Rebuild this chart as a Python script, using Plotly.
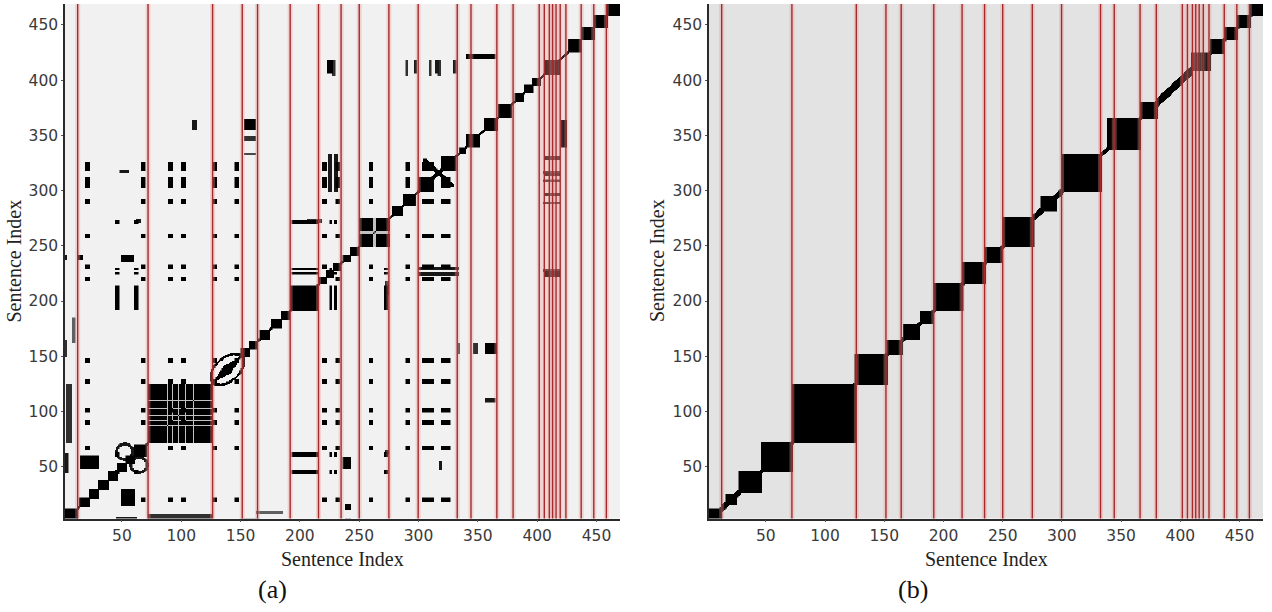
import numpy as np
import plotly.graph_objects as go

# ---- data -------------------------------------------------------------
N = 470  # number of sentences

# topic boundaries found by the segmenter (red lines)
segment_bounds = [12.7, 72, 126.4, 151.4, 164.3, 191.8, 215.7, 234.7, 250, 275,
                  299.7, 332.6, 344.2, 366, 379.7, 401.7, 406, 410.2, 413, 415.9,
                  419.4, 424.2, 437.1, 447.7, 458.3]

# (a) raw similarity: self-similar runs on the diagonal
diag_blocks_a = [(1, 12), (14, 22), (22, 30), (30, 38), (38, 46), (46, 53), (53, 60),
                 (60, 70), (72, 125), (150, 157), (157, 164), (166, 174), (176, 184),
                 (184, 191), (192, 214), (216, 222), (222, 228), (228, 234), (236, 242),
                 (242, 249), (250, 275), (278, 286), (287, 297), (300, 312),
                 (319, 331), (334, 339), (340, 351), (355, 366), (367, 378), (381, 388),
                 (389, 396), (396, 402), (406, 418), (426, 437), (437, 448), (448, 459),
                 (459, 470)]
diag_width_a = 1.5
# lighter seams inside larger blocks: block start, block end, seam indices
block_seams_a = [(72, 125, [88, 92, 97, 103, 110]), (250, 275, [262, 263])]
# crossing pattern inside the 300-333 block: centre, half size
cross_blocks_a = [(316.5, 13)]

# sentences sharing vocabulary across the text (mutually similar)
recurring_1 = [(19, 22), (66, 69), (89, 92), (100, 103), (126, 129), (145, 148),
               (219, 222), (230, 233), (258, 261), (289, 292), (303, 312), (319, 326)]
recurring_2 = [(44, 47), (60, 63), (193, 214), (225, 226), (229, 230), (271, 273)]

# other off-diagonal links: x0, x1, y0, y1, strength (mirrored)
links_a = [
    (72, 125, 3, 7, 0.8), (15, 30, 49, 60, 1.0), (49, 59, 236, 242, 1.0),
    (238, 242, 12, 16, 1.0), (153, 162, 356, 365, 1.0), (153, 162, 346, 349, 0.8),
    (153, 162, 333, 334, 0.7), (109, 112, 356, 364, 0.9), (223, 227, 407, 418, 1.0),
    (296, 298, 407, 418, 0.9), (314, 316, 407, 418, 0.9), (329, 331, 407, 418, 0.9),
    (340, 364, 420, 424, 1.0), (405, 418, 316, 318, 0.8), (405, 418, 309, 310, 0.8),
    (405, 418, 289, 290, 0.8), (405, 418, 227, 229, 0.8), (163, 185, 8, 10, 0.6),
    (272, 274, 62, 65, 0.9), (272, 274, 206, 218, 0.8), (317, 319, 48, 55, 0.9),
    (1, 4, 45, 62, 0.9), (1, 3, 150, 165, 0.8), (1, 3, 238, 242, 0.9),
    (300, 333, 224, 226, 0.9), (300, 333, 229, 231, 0.9),
]
# ring-shaped links: centre x, centre y, radius (mirrored)
rings_a = [(52, 64, 7)]
# elongated loop on the diagonal: centre, half length, half width
diag_loops_a = [(138.5, 13, 8)]

# (b) smoothed similarity: blocks on the diagonal
diag_blocks_b = [(1, 12), (16, 25), (27, 46), (46, 72), (72, 125), (125, 152),
                 (152, 165), (166, 179), (180, 191), (192, 216), (216, 235),
                 (235, 249), (250, 276), (282, 295), (300, 333), (338, 366),
                 (366, 380), (409, 425), (425, 437), (437, 448), (448, 459), (459, 470)]
diag_width_b = 2.5
wide_diag_b = [(380, 409, 4.5), (13, 28, 3.5), (276, 300, 3.5)]

tick_vals = [50, 100, 150, 200, 250, 300, 350, 400, 450]

# ---- matrix construction ----------------------------------------------
idx = np.arange(1, N + 1)
X, Y = np.meshgrid(idx, idx)


def put(M, mask, v):
    M[mask] = np.maximum(M[mask], v)


def rect(M, x0, x1, y0, y1, v, mirror=True):
    put(M, (X >= x0) & (X <= x1) & (Y >= y0) & (Y <= y1), v)
    if mirror:
        put(M, (Y >= x0) & (Y <= x1) & (X >= y0) & (X <= y1), v)


def build_a():
    M = np.zeros((N, N))
    put(M, np.abs(X - Y) <= diag_width_a, 1.0)
    for s, e in diag_blocks_a:
        rect(M, s, e, s, e, 1.0, mirror=False)
    for s0, s1, seams in block_seams_a:
        inside = (X >= s0) & (X <= s1) & (Y >= s0) & (Y <= s1)
        for g in seams:
            M[inside & ((X == g) | (Y == g))] = 0.2
    for group in (recurring_1, recurring_2):
        for a0, a1 in group:
            for b0, b1 in group:
                rect(M, a0, a1, b0, b1, 1.0)
    for c, h in cross_blocks_a:
        inside = (np.abs(X - c) <= h) & (np.abs(Y - c) <= h)
        put(M, inside & (np.abs((X - c) + (Y - c)) <= 2.5), 1.0)
        put(M, inside & (np.abs(X - Y) <= 2.5), 1.0)
    for x0, x1, y0, y1, v in links_a:
        rect(M, x0, x1, y0, y1, v)
    for cx, cy, r in rings_a:
        d1 = np.hypot(X - cx, Y - cy)
        d2 = np.hypot(Y - cx, X - cy)
        put(M, np.abs(d1 - r) <= 1.2, 0.9)
        put(M, np.abs(d2 - r) <= 1.2, 0.9)
    for c, a, b in diag_loops_a:
        u = (X + Y) / 2.0 - c
        w = (X - Y) / 2.0
        rr = np.sqrt((u / a) ** 2 + (w / b) ** 2)
        put(M, (rr >= 0.82) & (rr <= 1.0), 1.0)
        put(M, np.abs(w) <= 3.2 * np.clip(1 - np.abs(u) / a, 0, 1), 1.0)
    return M


def build_b():
    M = np.zeros((N, N))
    put(M, np.abs(X - Y) <= diag_width_b, 1.0)
    for s, e, w in wide_diag_b:
        put(M, (np.abs(X - Y) <= w) & (X >= s) & (X <= e), 1.0)
    for s, e in diag_blocks_b:
        rect(M, s, e, s, e, 1.0, mirror=False)
    return M


Za = build_a()
Zb = build_b()

# ---- figure -------------------------------------------------------------
fig = go.Figure()
fig.add_trace(go.Heatmap(z=Za, x=idx, y=idx, xaxis="x", yaxis="y",
                         colorscale=[[0, "#f1f1f1"], [1, "#000000"]],
                         zmin=0, zmax=1, showscale=False, zsmooth="best",
                         hoverinfo="skip"))
fig.add_trace(go.Heatmap(z=Zb, x=idx, y=idx, xaxis="x2", yaxis="y2",
                         colorscale=[[0, "#e3e3e3"], [1, "#000000"]],
                         zmin=0, zmax=1, showscale=False, zsmooth="best",
                         hoverinfo="skip"))

W, H = 1272, 612
x_dom_a = [65 / W, 620 / W]
x_dom_b = [709 / W, 1263 / W]
y_dom = [(H - 518.5) / H, (H - 4) / H]
x_range = [2, 469.8]
y_range = [3, 469]

tick_font = dict(family="DejaVu Sans", size=15.5, color="#3a3a3a")
axis_common = dict(showgrid=False, zeroline=False, showline=True, linecolor="#2a2a2a",
                   linewidth=1.5, ticks="outside", ticklen=2, tickcolor="#555",
                   tickvals=tick_vals, tickfont=tick_font, mirror=False)

fig.update_layout(
    width=W, height=H, margin=dict(l=0, r=0, t=0, b=0),
    paper_bgcolor="white", plot_bgcolor="white", showlegend=False,
    xaxis=dict(domain=x_dom_a, range=x_range, anchor="y", **axis_common),
    yaxis=dict(domain=y_dom, range=y_range, anchor="x", **axis_common),
    xaxis2=dict(domain=x_dom_b, range=x_range, anchor="y2", **axis_common),
    yaxis2=dict(domain=y_dom, range=y_range, anchor="x2", **axis_common),
)

# segment boundaries as red vertical lines in both panels
shapes = []
for xr, yr in (("x", "y domain"), ("x2", "y2 domain")):
    for b in segment_bounds:
        shapes.append(dict(type="line", xref=xr, yref=yr, x0=b, x1=b, y0=0, y1=1,
                           line=dict(color="rgba(236,150,150,0.35)", width=5)))
    for b in segment_bounds:
        shapes.append(dict(type="line", xref=xr, yref=yr, x0=b, x1=b, y0=0, y1=1,
                           line=dict(color="#a22c2c", width=1.4)))
fig.update_layout(shapes=shapes)

title_font = dict(family="Liberation Serif", size=20, color="#222")
label_font = dict(family="Liberation Serif", size=26, color="#111")
ann = []
for cx, yx, lab, lx in ((342, 13.5, "(a)", 272), (986, 657, "(b)", 913)):
    ann.append(dict(text="Sentence Index", x=cx / W, y=(H - 559) / H, xref="paper",
                    yref="paper", showarrow=False, font=title_font,
                    xanchor="center", yanchor="middle"))
    ann.append(dict(text="Sentence Index", x=yx / W, y=(H - 261) / H, xref="paper",
                    yref="paper", showarrow=False, font=title_font, textangle=-90,
                    xanchor="center", yanchor="middle"))
    ann.append(dict(text=lab, x=lx / W, y=(H - 589) / H, xref="paper", yref="paper",
                    showarrow=False, font=label_font, xanchor="center",
                    yanchor="middle"))
fig.update_layout(annotations=ann)

fig.write_html("out.html")
